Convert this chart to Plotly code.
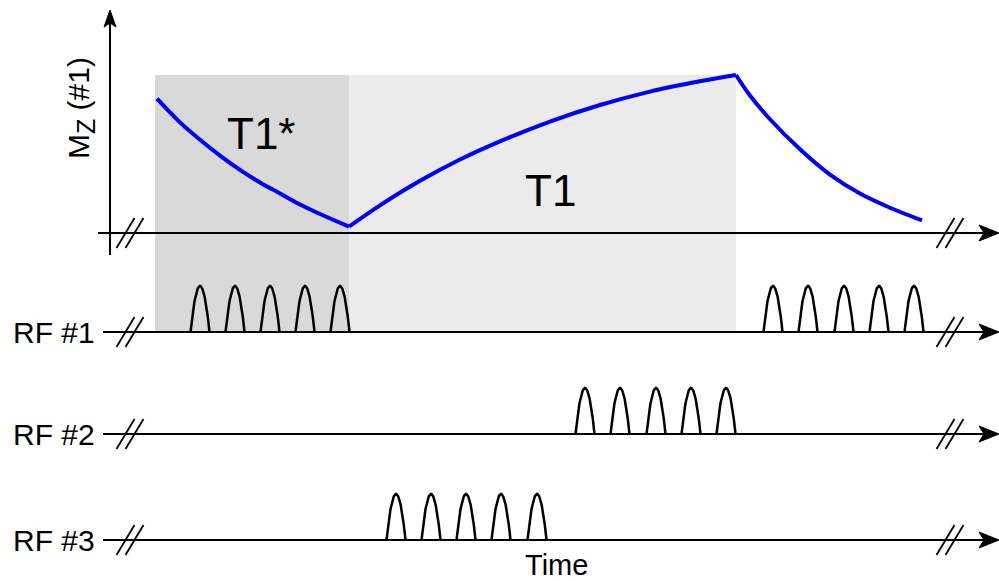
import numpy as np
import plotly.graph_objects as go

# ---------------- data ----------------
# Mz(#1) curve, three relaxation segments: time (arbitrary units) and normalized Mz
seg1_time = [157, 180, 200, 220, 240, 260, 280, 300, 320, 349]
seg1_mz = [0.85, 0.70, 0.59, 0.49, 0.40, 0.32, 0.25, 0.18, 0.12, 0.04]
seg2_time = [349, 380, 420, 460, 500, 550, 600, 650, 700, 736]
seg2_mz = [0.04, 0.175, 0.33, 0.465, 0.58, 0.705, 0.81, 0.895, 0.96, 1.00]
seg3_time = [736, 750, 770, 800, 830, 860, 890, 922]
seg3_mz = [1.00, 0.87, 0.72, 0.53, 0.37, 0.25, 0.16, 0.08]

# RF pulse centres (time units) for each channel
rf1_pulses = [200, 235, 270, 305, 340, 773, 808, 844, 879, 914]
rf2_pulses = [585, 620, 656, 691, 726]
rf3_pulses = [396, 431, 466, 501, 537]

# shaded relaxation windows
t1star_window = [155, 349]
t1_window = [349, 736]

row_labels = ["RF #1", "RF #2", "RF #3"]

# ---------------- layout geometry (screen-like units) ----------------
W, H = 999, 581
MZ_BASE, MZ_SCALE = 233, 158
RF_BASES = [332, 434, 540]
PULSE_HW, PULSE_H = 9.5, 46
AXIS_X = 110
LINE_END = 999
BREAK_L, BREAK_R = 130, 950

def mz_to_y(v):
    return MZ_BASE - MZ_SCALE * np.asarray(v, dtype=float)

fig = go.Figure()

# shaded windows
fig.add_shape(type="rect", x0=t1star_window[0], x1=t1star_window[1],
              y0=float(mz_to_y(1.0)), y1=RF_BASES[0], fillcolor="#d9d9d9",
              line_width=0, layer="below")
fig.add_shape(type="rect", x0=t1_window[0], x1=t1_window[1],
              y0=float(mz_to_y(1.0)), y1=RF_BASES[0], fillcolor="#ebebeb",
              line_width=0, layer="below")

def line(xs, ys, width=2, color="black", shape="linear"):
    fig.add_trace(go.Scatter(x=xs, y=ys, mode="lines",
                             line=dict(color=color, width=width, shape=shape),
                             hoverinfo="skip", showlegend=False))

# Mz vertical axis
line([AXIS_X, AXIS_X], [255, 22])
# horizontal baselines
line([98, LINE_END - 8], [MZ_BASE, MZ_BASE])
for b in RF_BASES:
    line([103, LINE_END - 8], [b, b])

# break marks
def brk(xc, yc):
    for off in (-4.5, 4.5):
        line([xc + off - 9, xc + off + 9], [yc + 15, yc - 15], width=1.8)

for yb in [MZ_BASE] + RF_BASES:
    brk(BREAK_L, yb)
    brk(BREAK_R, yb)

# arrowheads
def arrow_right(tip_x, y):
    return (f"M {tip_x} {y} L {tip_x-20} {y-8} L {tip_x-15} {y} "
            f"L {tip_x-20} {y+8} Z")

def arrow_up(x, tip_y):
    return (f"M {x} {tip_y} L {x-6} {tip_y+17} L {x} {tip_y+13} "
            f"L {x+6} {tip_y+17} Z")

for yb in [MZ_BASE] + RF_BASES:
    fig.add_shape(type="path", path=arrow_right(LINE_END, yb),
                  fillcolor="black", line=dict(color="black", width=1))
fig.add_shape(type="path", path=arrow_up(AXIS_X, 10),
              fillcolor="black", line=dict(color="black", width=1))

# RF pulses (rounded arches)
u = np.linspace(-1, 1, 41)
def pulses(centres, base):
    xs, ys = [], []
    for c in centres:
        xs += list(c + PULSE_HW * u) + [None]
        ys += list(base - PULSE_H * (1 - u ** 2)) + [None]
    line(xs, ys, width=2.5)

pulses(rf1_pulses, RF_BASES[0])
pulses(rf2_pulses, RF_BASES[1])
pulses(rf3_pulses, RF_BASES[2])

# Mz curve
for t, m in [(seg1_time, seg1_mz), (seg2_time, seg2_mz), (seg3_time, seg3_mz)]:
    line(t, mz_to_y(m), width=4, color="#0000ff", shape="spline")

# texts
FONT = "Liberation Sans, Arial, sans-serif"
def text(x, y, s, size, xanchor="center", angle=0):
    fig.add_annotation(x=x, y=y, text=s, showarrow=False, xanchor=xanchor,
                       yanchor="middle", textangle=angle,
                       font=dict(family=FONT, size=size, color="black"))

for lab, b in zip(row_labels, RF_BASES):
    text(97, b, lab, 30, xanchor="right")
text(261, 133, "T1*", 44)
text(550, 190, "T1", 44)
text(556, 565, "Time", 29)
text(81, 108, "M<sub><span style='font-size:25px'>Z</span></sub> (#1)", 30, angle=-90)

fig.update_layout(width=W, height=H, margin=dict(l=0, r=0, t=0, b=0),
                  paper_bgcolor="white", plot_bgcolor="white",
                  xaxis=dict(range=[0, W], visible=False, fixedrange=True),
                  yaxis=dict(range=[H, 0], visible=False, fixedrange=True))

fig.write_html("out.html", config={"displayModeBar": False},
               post_script="document.body.style.margin='0';"
                           "document.body.style.overflow='hidden';")
